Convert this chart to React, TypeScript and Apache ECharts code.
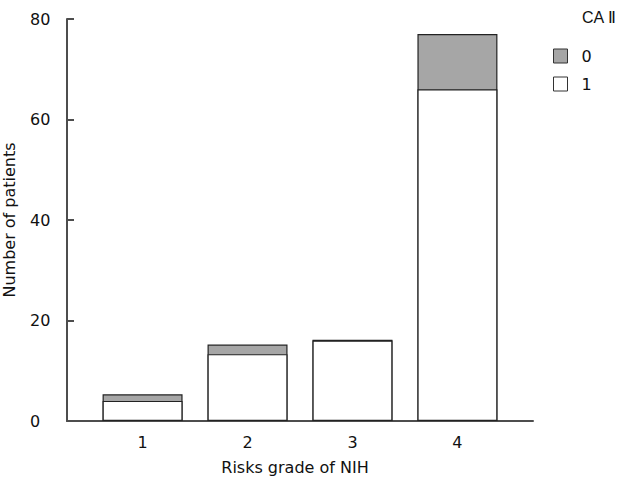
import React, { useEffect, useRef } from "react";
import * as echarts from "echarts";

const grades = [1, 2, 3, 4];
const gradeLabels = ["1", "2", "3", "4"];
const caII_1 = [4, 13.3, 16, 66];
const caII_0 = [1.3, 1.9, 0.15, 11];
const yTicks = [0, 20, 40, 60, 80];

const FONT = "DejaVu Sans";
const FS = 16;

export default function App() {
  const ref = useRef<HTMLDivElement>(null);
  useEffect(() => {
    if (!ref.current) return;
    const chart = echarts.init(ref.current, undefined, { renderer: "svg" });
    const totals = grades.map((g, i) => [g, caII_1[i] + caII_0[i]]);
    const whites = grades.map((g, i) => [g, caII_1[i]]);
    chart.setOption({
      animation: false,
      backgroundColor: "#fff",
      textStyle: { fontFamily: FONT },
      grid: { left: 67, right: 97, top: 19, bottom: 59, outerBoundsMode: "none", containLabel: false },
      xAxis: {
        type: "value",
        min: 0.28,
        max: 4.72,
        name: "Risks grade of NIH",
        nameLocation: "middle",
        nameGap: 38,
        nameTextStyle: { fontSize: FS, color: "#111", fontFamily: FONT, padding: [0, 10, 0, 0] },
        axisLine: { show: true, lineStyle: { color: "#4d4d4d", width: 2 } },
        axisTick: { show: true, inside: true, length: 7, customValues: grades, lineStyle: { color: "#4d4d4d", width: 2 } },
        axisLabel: {
          customValues: grades,
          formatter: (v: number) => gradeLabels[grades.indexOf(v)] ?? "",
          fontSize: FS,
          color: "#111",
          margin: 13,
          fontFamily: FONT,
        },
        splitLine: { show: false },
      },
      yAxis: {
        type: "value",
        min: 0,
        max: 80,
        interval: 20,
        name: "Number of patients",
        nameLocation: "middle",
        nameRotate: 90,
        nameGap: 50,
        nameTextStyle: { fontSize: FS, color: "#111", fontFamily: FONT },
        axisLine: { show: true, lineStyle: { color: "#4d4d4d", width: 2 } },
        axisTick: { show: true, inside: true, length: 7, lineStyle: { color: "#4d4d4d", width: 2 } },
        axisLabel: {
          customValues: yTicks,
          fontSize: FS,
          color: "#111",
          margin: 37,
          align: "left",
          fontFamily: FONT,
        },
        splitLine: { show: false },
      },
      legend: {
        orient: "vertical",
        left: 548,
        top: 43,
        itemWidth: 14,
        itemHeight: 14,
        itemGap: 12,
        icon: "rect",
        textStyle: { fontSize: FS, color: "#111", fontFamily: FONT, padding: [0, 0, 0, 9] },
        data: [
          { name: "0", itemStyle: { color: "#a6a6a6", borderColor: "#333", borderWidth: 1 } },
          { name: "1", itemStyle: { color: "#ffffff", borderColor: "#333", borderWidth: 1 } },
        ],
      },
      graphic: [
        {
          type: "text",
          left: 582,
          top: 9,
          style: { text: "CA Ⅱ", fontSize: FS, fill: "#111", font: `${FS}px "${FONT}"` },
        },
      ],
      series: [
        {
          name: "0",
          type: "bar",
          barWidth: 80,
          barGap: "-100%",
          data: totals,
          itemStyle: { color: "#a6a6a6", borderColor: "#222", borderWidth: 1.2 },
        },
        {
          name: "1",
          type: "bar",
          barWidth: 80,
          barGap: "-100%",
          data: whites,
          itemStyle: { color: "#ffffff", borderColor: "#222", borderWidth: 1.2 },
        },
      ],
    });
    return () => chart.dispose();
  }, []);
  return <div ref={ref} style={{ width: 630, height: 480, position: "absolute", left: 0, top: 0 }} />;
}
